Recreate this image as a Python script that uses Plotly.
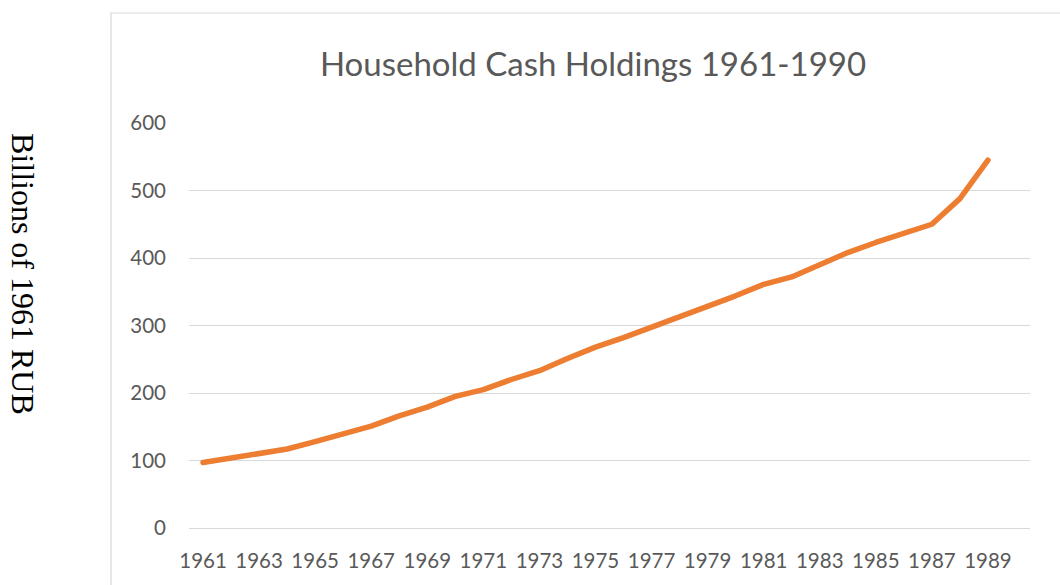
import plotly.graph_objects as go

years = list(range(1961, 1990))
cash = [97, 104, 110, 117, 128, 139, 151, 166, 179, 195, 205, 220, 233, 251, 268, 282,
        297, 312, 329, 344, 361, 372, 390, 408, 423, 437, 450, 488, 545]
tick_years = list(range(1961, 1990, 2))
title_text = "Household Cash Holdings 1961-1990"
ytitle_text = "Billions of 1961 RUB"

W, H = 1060, 585
L, R, T, B = 189, 30, 123, 57
pw, ph = W - L - R, H - T - B

def px_x(p):
    return (p - L) / pw

def px_y(p):
    return (H - B - p) / ph

fig = go.Figure()
fig.add_trace(go.Scatter(
    x=years, y=cash, mode="lines",
    line=dict(color="#ED7D31", width=5.5, shape="linear"),
    hoverinfo="x+y", showlegend=False,
))

grid = "#D9D9D9"
tickfont = dict(family="Lato, Open Sans, sans-serif", size=20.5, color="#595959")

fig.update_layout(
    width=W, height=H,
    margin=dict(l=L, r=R, t=T, b=B, autoexpand=False),
    paper_bgcolor="white", plot_bgcolor="white",
    title=dict(text=title_text, x=593 / W, xref="container", xanchor="center",
               y=1 - 64 / H, yref="container", yanchor="middle",
               font=dict(family="Lato, Open Sans, sans-serif", size=33, color="#595959")),
    xaxis=dict(range=[1960.5, 1990.5], tickmode="array", tickvals=tick_years,
               ticktext=[str(y) for y in tick_years], showgrid=False, zeroline=False,
               showline=True, linecolor=grid, linewidth=1, ticks="",
               tickfont=tickfont, ticklabelstandoff=14),
    yaxis=dict(range=[0, 600], tickmode="array", tickvals=[0, 100, 200, 300, 400, 500, 600],
               showgrid=True, gridcolor=grid, gridwidth=1, zeroline=False,
               showline=False, ticks="", tickfont=tickfont, ticklabelstandoff=22),
    shapes=[dict(type="rect", xref="paper", yref="paper",
                 x0=px_x(111), x1=px_x(1075), y0=px_y(600), y1=px_y(13),
                 line=dict(color=grid, width=1.2), fillcolor="rgba(0,0,0,0)", layer="below")],
    annotations=[dict(text=ytitle_text, xref="paper", yref="paper",
                      x=px_x(23), y=px_y(274), xanchor="center", yanchor="middle",
                      textangle=90, showarrow=False,
                      font=dict(family="Liberation Serif, Times New Roman, serif", size=32,
                                color="black"))],
)

fig.write_html("out.html", config={"displayModeBar": False},
               post_script="document.body.style.margin='0';document.body.style.overflow='hidden';"
                           "document.querySelectorAll('.scatterlayer path.js-line').forEach(function(p){p.style.strokeLinecap='round';p.style.strokeLinejoin='round';});")
